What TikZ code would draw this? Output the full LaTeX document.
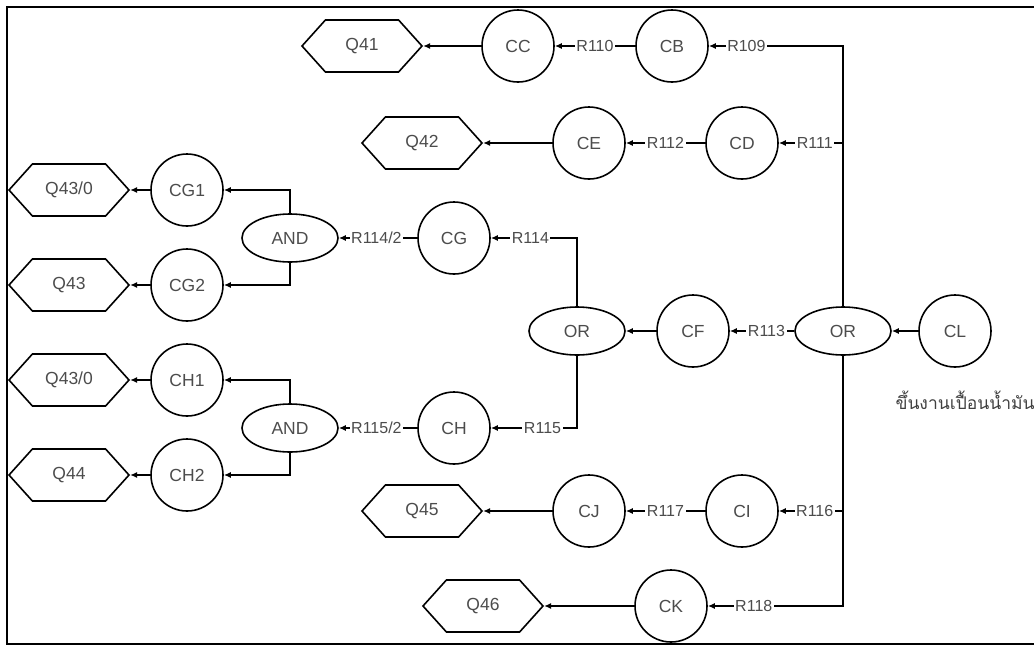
\documentclass[tikz,border=0pt]{standalone}
\usepackage{fontspec}
\setmainfont{Liberation Sans}
\newfontfamily\thaifont[Script=Thai]{Loma}
\usetikzlibrary{shapes.geometric,shapes.symbols,arrows.meta}

\begin{document}
\begin{tikzpicture}[x=1pt,y=-1pt,
  cnode/.style={circle,draw,line width=1.6pt,minimum size=72pt,inner sep=0pt,font=\fontsize{17.5}{17.5}\selectfont,text=black!70},
  gate/.style={ellipse,draw,line width=1.6pt,minimum width=96pt,minimum height=48pt,inner sep=0pt,font=\fontsize{17.5}{17.5}\selectfont,text=black!70},
  goal/.style={signal,signal to=west and east,signal pointer angle=96,draw,line width=1.6pt,minimum width=120pt,minimum height=52pt,inner sep=0pt,font=\fontsize{17.5}{17.5}\selectfont,text=black!70},
  link/.style={line width=1.6pt,-{Latex[length=7pt,width=6pt]}},
  rlabel/.style={fill=white,inner sep=1.5pt,font=\fontsize{16}{16}\selectfont,text=black!70}]
\useasboundingbox (0,0) rectangle (1034,646);
\draw[line width=2.4pt] (7,7) rectangle (1060,644);

% upper branches
\node (Q41) at (362,46) [goal]{Q41};
\node (CC) at (518,46) [cnode]{CC};
\node (CB) at (672,46) [cnode]{CB};
\node (Q42) at (422,143) [goal]{Q42};
\node (CE) at (589,143) [cnode]{CE};
\node (CD) at (742,143) [cnode]{CD};

% CG / CH split
\node (Q43a) at (69,190) [goal]{Q43/0};
\node (CG1) at (187,190) [cnode]{CG1};
\node (AND1) at (290,238) [gate]{AND};
\node (CG) at (454,238) [cnode]{CG};
\node (Q43) at (69,285) [goal]{Q43};
\node (CG2) at (187,285) [cnode]{CG2};
\node (OR1) at (577,331) [gate]{OR};
\node (CF) at (693,331) [cnode]{CF};
\node (OR2) at (843,331) [gate]{OR};
\node (CL) at (955,331) [cnode]{CL};
\node (Q43b) at (69,380) [goal]{Q43/0};
\node (CH1) at (187,380) [cnode]{CH1};
\node (AND2) at (290,428) [gate]{AND};
\node (CH) at (454,428) [cnode]{CH};
\node (Q44) at (69,475) [goal]{Q44};
\node (CH2) at (187,475) [cnode]{CH2};

% lower branches
\node (Q45) at (422,511) [goal]{Q45};
\node (CJ) at (589,511) [cnode]{CJ};
\node (CI) at (742,511) [cnode]{CI};
\node (Q46) at (483,606) [goal]{Q46};
\node (CK) at (671,606) [cnode]{CK};

\node (oily) at (892,400) [anchor=west,font=\thaifont\fontsize{17.5}{17.5}\selectfont,text=black!75]{ขึ้นงานเปื้อนน้ำมัน};

\draw[link] (CL)--(OR2);
\draw[link] (OR2.north)|-node[rlabel,pos=.86]{R109}(CB);
\draw[link] (OR2.north)|-node[rlabel,pos=.72]{R111}(CD);
\draw[link] (OR2.south)|-node[rlabel,pos=.72]{R116}(CI);
\draw[link] (OR2.south)|-node[rlabel,pos=.83]{R118}(CK);
\draw[link] (OR2)--node[rlabel,pos=.43]{R113}(CF);
\draw[link] (CF)--(OR1);

\draw[link] (CB)--node[rlabel]{R110}(CC);
\draw[link] (CC)--(Q41);
\draw[link] (CD)--node[rlabel]{R112}(CE);
\draw[link] (CE)--(Q42);
\draw[link] (CI)--node[rlabel]{R117}(CJ);
\draw[link] (CJ)--(Q45);
\draw[link] (CK)--(Q46);

\draw[link] (OR1.north)|-node[rlabel,pos=.77]{R114}(CG);
\draw[link] (OR1.south)|-node[rlabel,pos=.70]{R115}(CH);
\draw[link] (CG)--node[rlabel,pos=.52]{R114/2}(AND1);
\draw[link] (CH)--node[rlabel,pos=.52]{R115/2}(AND2);
\draw[link] (AND1.north)|-(CG1);
\draw[link] (AND1.south)|-(CG2);
\draw[link] (AND2.north)|-(CH1);
\draw[link] (AND2.south)|-(CH2);
\draw[link] (CG1)--(Q43a);
\draw[link] (CG2)--(Q43);
\draw[link] (CH1)--(Q43b);
\draw[link] (CH2)--(Q44);
\end{tikzpicture}
\end{document}
